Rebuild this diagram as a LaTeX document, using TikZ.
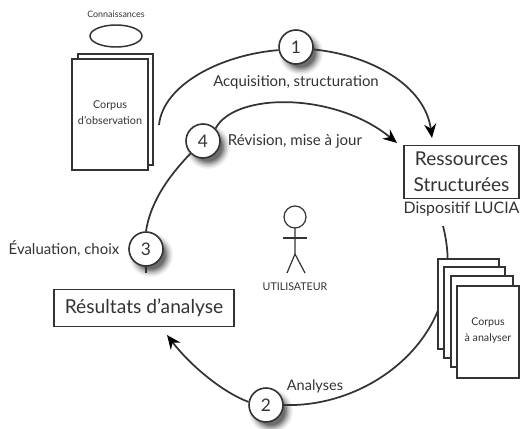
\documentclass[tikz,border=0pt]{standalone}
\usepackage{fontspec}
\setmainfont{Lato}
\usetikzlibrary{arrows.meta,calc,shapes.geometric}
\definecolor{ink}{HTML}{333333}
\tikzset{
  lab/.style={text=ink,inner sep=0pt,font=\fontsize{#1}{#1}\selectfont,align=center},
  lab/.default=8,
  num/.style={circle,draw=ink,line width=1.2pt,fill=white,minimum size=25.5pt,inner sep=0pt,text=ink,font=\fontsize{13}{13}\selectfont},
  flow/.style={draw=ink,line width=1.3pt},
  flowarrow/.style={flow,-{Stealth[length=10.5pt,width=9pt,color=black]}},
  boxed/.style={draw=ink,line width=1.1pt,fill=white,inner sep=0pt,align=center,text=ink},
  sheet/.style={draw=ink,line width=1.2pt,fill=white},
  figure/.style={draw=ink,line width=.9pt}
}
\newcommand{\softshadow}[1]{%
  \foreach \rr/\oo in {22/.05,20.5/.08,19/.1,17.5/.14,16/.18,14.5/.22}
    \fill[black,opacity=\oo] ($(#1)+(5,6)$) circle[radius=\rr*0.75pt];}
\begin{document}
\begin{tikzpicture}[x=0.75pt,y=-0.75pt]
\useasboundingbox (0,0) rectangle (520,428);
\fill[white] (0,0) rectangle (520,428);

\coordinate (p1) at (296,47);
\coordinate (p2) at (266,405);
\coordinate (p3) at (146,249);
\coordinate (p4) at (203,141);
\softshadow{p1}\softshadow{p2}\softshadow{p3}\softshadow{p4}

% connector end points
\coordinate (a1) at (159,125);
\coordinate (e1) at (432,138);
\coordinate (e4) at (397,143);
\coordinate (s3) at (146,273);
\coordinate (a2) at (443,226);
\coordinate (e2) at (167,335);

% circles come after the curves
\node[num,opacity=0] (n1) at (p1) {};
\node[num,opacity=0] (n2) at (p2) {};
\node[num,opacity=0] (n3) at (p3) {};
\node[num,opacity=0] (n4) at (p4) {};

\draw[flow] (a1) .. controls (163,85) and (220,55) .. (n1.190);
\draw[flowarrow] (n1.-8) .. controls (370,55) and (425,85) .. (e1);
\draw[flowarrow] (n4.north east) .. controls (235,92) and (335,92) .. (e4);
\draw[flow] (n3.north) .. controls (150,205) and (165,180) .. (n4.south west);
\draw[flow] (n3.south) -- (s3);
\draw[flow] (n2.east) .. controls (375,408) and (470,330) .. (a2);
\draw[flowarrow] (n2.170) .. controls (222,392) and (190,365) .. (e2);

\node[num] (c1) at (p1) {1};
\node[num] (c2) at (p2) {2};
\node[num] (c3) at (p3) {3};
\node[num] (c4) at (p4) {4};

% Corpus d'observation
\draw[sheet] (78,54) rectangle (153,165);
\draw[sheet] (72,59) rectangle (148,170);
\node[lab=8.1] (co) at (110,113) {Corpus\\[4pt]d'observation};
\node[draw=ink,line width=1.1pt,ellipse,minimum width=39pt,minimum height=16.5pt,inner sep=0pt] (el) at (116,36) {};
\node[lab=6.7] (kn) at (116,14) {Connaissances};

% Corpus a analyser
\draw[sheet] (438,259) rectangle (499,349);
\draw[sheet] (444,267) rectangle (505,358);
\draw[sheet] (451,276) rectangle (513,367);
\draw[sheet] (457,286) rectangle (519,378);
\node[lab=8] (ca) at (488,331) {Corpus\\[4pt]à analyser};

% Boxes
\node[boxed,minimum width=86.5pt,minimum height=40pt,font=\fontsize{14.3}{19.5}\selectfont] (rs) at (461.5,172) {Ressources\\Structurées};
\node[lab=11.9] (dl) at (461.5,209) {Dispositif LUCIA};
\node[boxed,minimum width=135pt,minimum height=27.5pt,font=\fontsize{14.4}{15}\selectfont] (ra) at (144,308) {Résultats d'analyse};

% Labels
\node[lab=11.2] (l1) at (296,82) {Acquisition, structuration};
\node[lab=11.3] (l4) at (295,141) {Révision, mise à jour};
\node[lab=11.2] (l3) at (64,249) {Évaluation, choix};
\node[lab=10.9] (l2) at (315,386) {Analyses};

% User
\draw[figure] (295,217) circle[radius=11*0.75pt];
\coordinate (neck) at (295,228);
\coordinate (hip) at (295,254);
\draw[figure] (neck) -- (hip) -- (287,273);
\draw[figure] (hip) -- (305,273);
\draw[figure] (283,238) -- (307,238);
\node[lab=8] (us) at (295,287) {UTILISATEUR};
\end{tikzpicture}
\end{document}
